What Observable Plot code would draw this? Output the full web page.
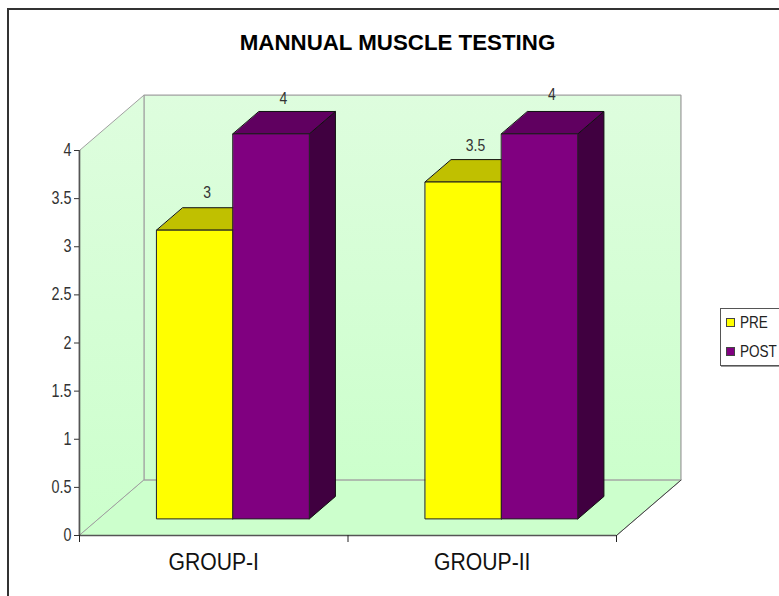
<!DOCTYPE html>
<html>
<head>
<meta charset="utf-8">
<script src="https://cdn.jsdelivr.net/npm/d3@7"></script>
<script src="https://cdn.jsdelivr.net/npm/@observablehq/plot@0.6"></script>
<style>
  html, body { margin: 0; padding: 0; background: #fff; }
  body { width: 779px; height: 596px; overflow: hidden; position: relative; font-family: "Liberation Sans", Arial, sans-serif; }
  #frame { position: absolute; left: 7px; top: 8px; right: -4px; bottom: -4px; border: 2px solid #333; box-sizing: border-box; }
  #title { position: absolute; left: 8px; width: 779px; top: 30px; text-align: center; font-weight: bold; font-size: 22.3px; line-height: 26px; color: #000; }
  #legend { position: absolute; left: 720px; top: 308px; width: 70px; height: 58px; border: 1px solid #555; box-shadow: 1px 1px 0 #999; background: #fff; font-size: 16.5px; color: #222; box-sizing: border-box; }
  #legend div { position: absolute; left: 19px; line-height: 16px; white-space: nowrap; transform: scaleX(0.82); transform-origin: left center; }
  #legend i { position: absolute; left: 5px; width: 9px; height: 9px; border: 1px solid #444; box-sizing: border-box; }
  svg { position: absolute; left: 0; top: 0; }
</style>
</head>
<body>
<div id="frame"></div>
<div id="chart"></div>
<div id="title">MANNUAL MUSCLE TESTING</div>
<div id="legend"></div>
<script>
const chartTitle = "MANNUAL MUSCLE TESTING";
const groups = ["GROUP-I", "GROUP-II"];
const seriesNames = ["PRE", "POST"];
const preValues = [3, 3.5];
const postValues = [4, 4];
const yTicks = [0, 0.5, 1, 1.5, 2, 2.5, 3, 3.5, 4];

const colors = {
  PRE:  {front: "#ffff00", top: "#c0c000", side: "#808000"},
  POST: {front: "#800080", top: "#600060", side: "#400040"}
};

// 3-D projection, in data units: how far one full step into the box moves x and y.
const depthX = 0.24, depthY = 0.575;
const barNear = 0.30, barFar = 0.705;
const barWidth = 0.284;
const yMax = 4, xMax = groups.length;

const project = (x, y, z) => ({x: x + z * depthX, y: y + z * depthY});
const poly = (...pts) => pts.map(([x, y, z]) => project(x, y, z));
const face = (pts, fill, stroke, strokeWidth = 1) =>
  Plot.line(pts, {x: "x", y: "y", fill, stroke, strokeWidth, curve: "linear-closed", strokeLinejoin: "miter"});

const wallGrey = "#a0a0a0";
const marks = [
  () => {
    const ns = "http://www.w3.org/2000/svg";
    const defs = document.createElementNS(ns, "defs");
    defs.innerHTML = `<linearGradient id="wall" x1="0" y1="0" x2="0" y2="1">
      <stop offset="0" stop-color="#defdde"/><stop offset="1" stop-color="#ccffcc"/></linearGradient>`;
    return defs;
  },
  face(poly([0, 0, 1], [xMax, 0, 1], [xMax, yMax, 1], [0, yMax, 1]), "url(#wall)", wallGrey, 1.3),
  face(poly([0, 0, 0], [0, 0, 1], [0, yMax, 1], [0, yMax, 0]), "url(#wall)", wallGrey, 1),
  face(poly([0, 0, 0], [xMax, 0, 0], [xMax, 0, 1], [0, 0, 1]), "#ccffcc", wallGrey, 1),
  Plot.line(poly([xMax, 0, 0], [xMax, 0, 1]), {x: "x", y: "y", stroke: "#444", strokeWidth: 1})
];

const labels = [];
groups.forEach((g, i) => {
  [preValues[i], postValues[i]].forEach((v, s) => {
    const c = colors[seriesNames[s]];
    const x0 = i + 0.5 - barWidth + s * barWidth, x1 = x0 + barWidth;
    marks.push(
      face(poly([x1, 0, barNear], [x1, 0, barFar], [x1, v, barFar], [x1, v, barNear]), c.side, "#111"),
      face(poly([x0, v, barNear], [x1, v, barNear], [x1, v, barFar], [x0, v, barFar]), c.top, "#111"),
      face(poly([x0, 0, barNear], [x1, 0, barNear], [x1, v, barNear], [x0, v, barNear]), c.front, "#222")
    );
    labels.push({...project((x0 + x1) / 2, v, (barNear + barFar) / 2), v, g: i, s});
  });
});

const labelDy = [[-4, -2], [-3, -6]];
marks.push(
  ...labels.map(d => Plot.text([d], {
    x: "x", y: "y", text: d => String(d.v), dx: -1,
    dy: -22 + labelDy[d.g][d.s],
    fontSize: 17, fill: "#333", className: "squeeze"
  })),
  Plot.ruleX([0], {y1: 0, y2: yMax, stroke: "#555", strokeWidth: 1.6}),
  Plot.ruleY([0], {x1: 0, x2: xMax, stroke: "#555", strokeWidth: 1.6}),
  Plot.axisY(yTicks, {anchor: "left", tickSize: 5, tickPadding: 3, tickFormat: d => String(d),
    fontSize: 17.5, stroke: "#333", fill: "#333", label: null, className: "squeeze"}),
  Plot.axisX(d3.range(xMax + 1), {anchor: "bottom", tickSize: 7, tickFormat: () => "", stroke: "#222", label: null}),
  Plot.text(groups, {x: (d, i) => i + 0.5, y: 0, text: d => d, dy: 27, dx: 0, fontSize: 23.5, fill: "#111", className: "squeeze-wide"})
);

const plot = Plot.plot({
  width: 779, height: 596,
  marginLeft: 79, marginRight: 163, marginTop: 150, marginBottom: 61,
  style: {background: "transparent", fontFamily: "'Liberation Sans', Arial, sans-serif", overflow: "visible"},
  x: {domain: [0, xMax], range: [79, 616], axis: null},
  y: {domain: [0, yMax], range: [535, 150], axis: null},
  marks
});
document.getElementById("chart").append(plot);

// The reference's type is horizontally condensed; keep real text and squeeze its glyphs.
const squeeze = (selector, factor) => plot.querySelectorAll(selector).forEach(t => {
  t.setAttribute("textLength", t.getComputedTextLength() * factor);
  t.setAttribute("lengthAdjust", "spacingAndGlyphs");
});
squeeze(".squeeze text, text.squeeze", 0.82);
squeeze(".squeeze-wide text, text.squeeze-wide", 0.9);

const legend = document.getElementById("legend");
seriesNames.forEach((name, i) => {
  const swatch = document.createElement("i");
  swatch.style.top = (9 + i * 29) + "px";
  swatch.style.background = colors[name].front;
  const label = document.createElement("div");
  label.style.top = (5 + i * 29) + "px";
  label.textContent = name;
  legend.append(swatch, label);
});
</script>
</body>
</html>
